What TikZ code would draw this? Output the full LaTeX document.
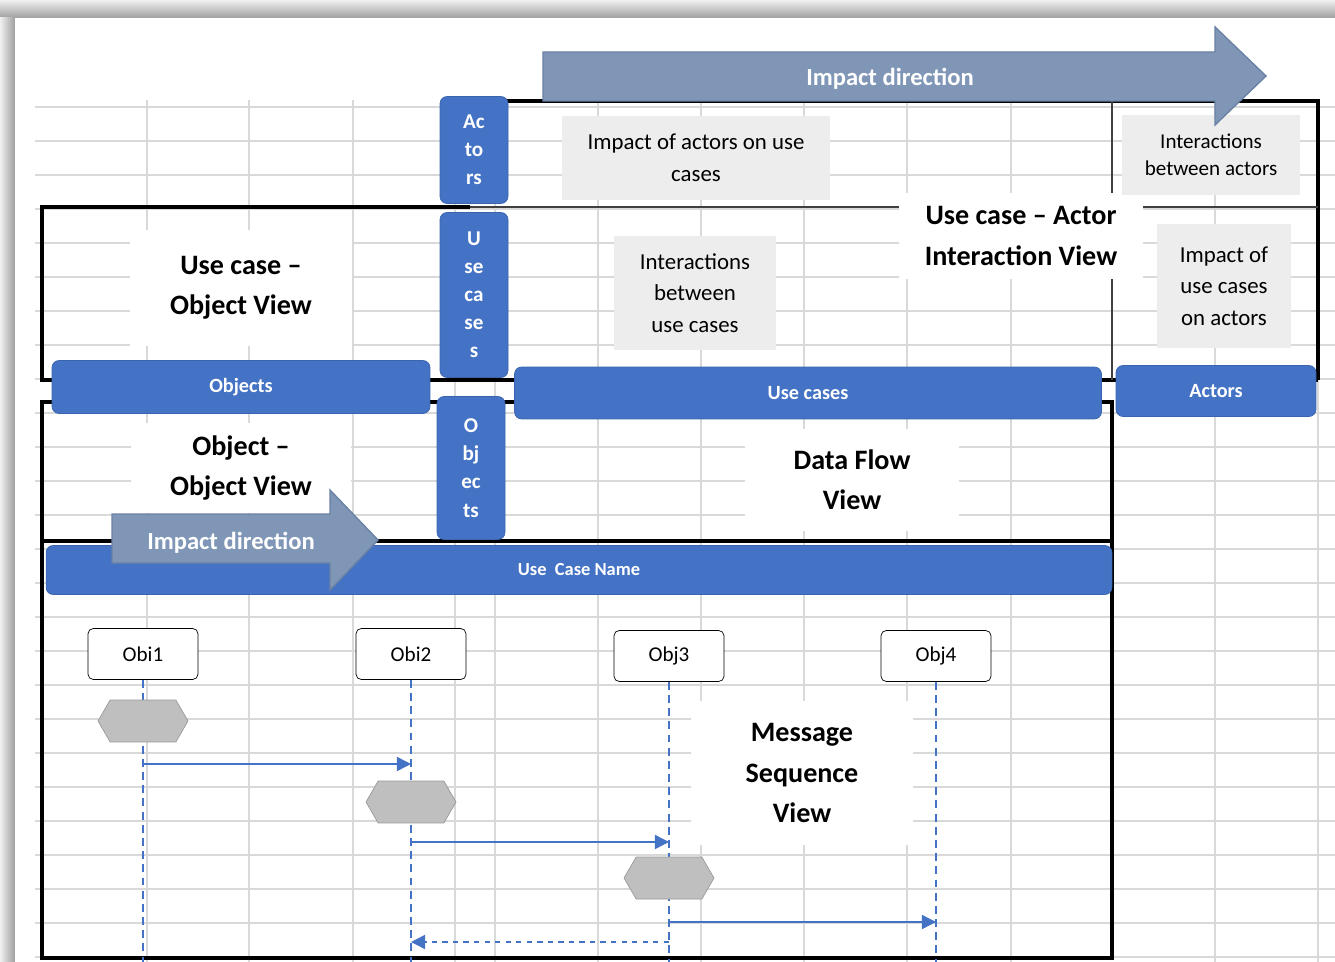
\documentclass[tikz,border=0pt]{standalone}
\usepackage{fontspec}
\setmainfont{Carlito}
\usetikzlibrary{arrows.meta,shapes.symbols}
\definecolor{pillblue}{HTML}{4472C4}
\definecolor{pillline}{HTML}{3A64AE}
\definecolor{impactfill}{HTML}{7F96B6}
\definecolor{impactline}{HTML}{6A82A4}
\definecolor{notegray}{HTML}{EDEDED}
\definecolor{cellgray}{HTML}{D9D9D9}
\definecolor{hexgray}{HTML}{BFBFBF}
\begin{document}
\begin{tikzpicture}[x=0.02cm, y=-0.02cm,
    pill/.style = {draw=pillline, fill=pillblue, rounded corners=4pt, text=white, align=center, inner sep=0pt, font=\bfseries\fontsize{12}{16}\selectfont},
    note/.style = {fill=notegray, align=center, inner sep=0pt, font=\fontsize{13}{18}\selectfont},
    view/.style = {fill=white, align=center, inner sep=0pt, font=\bfseries\fontsize{16}{23}\selectfont},
    obj/.style = {draw, fill=white, rounded corners=3pt, minimum width=2.2cm, minimum height=1.02cm, font=\fontsize{12}{14}\selectfont},
    act/.style = {signal, signal to=east and west, signal pointer angle=120, draw=hexgray!80!black, fill=hexgray, minimum width=1.8cm, minimum height=0.84cm, inner sep=0pt},
    life/.style = {pillblue, line width=0.6pt, dash pattern=on 4.5pt off 3pt},
    msg/.style = {pillblue, line width=0.8pt, -{Triangle[length=8pt,width=8pt]}},
    frame/.style = {line width=2pt},
    impact/.style = {fill=impactfill, draw=impactline, line width=0.8pt},
    impacttext/.style = {text=white, font=\bfseries\fontsize{14}{16}\selectfont},
    cell/.style = {cellgray, line width=0.7pt}]
    \useasboundingbox (0,0) rectangle (1335,962);
    \fill[black!22] (0,0) rectangle (1335,962);
    \shade[top color=black!6, bottom color=black!38] (0,0) rectangle (1335,18);
    \shade[left color=black!6, right color=black!38] (0,18) rectangle (15,962);
    \fill[white] (15,18) rectangle (1335,962);
    \foreach \gx in {147,249,353,455,495,598,701,804,907,1011,1215,1318}
        \draw[cell] (\gx,100) -- (\gx,962);
    \foreach \gy in {107,141,...,957}
        \draw[cell] (35,\gy) -- (1335,\gy);
    \draw[frame] (505,101) -- (1318,101) -- (1318,380);
    \draw[frame] (470,207) -- (42,207) -- (42,380) -- (1318,380);
    \draw[black!75, line width=1.1pt] (470,207) -- (1318,207);
    \draw[black!75, line width=1.1pt] (1112,101) -- (1112,380);
    \draw[frame] (42,402) rectangle (1112,958);
    \draw[frame] (42,541) -- (1112,541);
    \node[view, minimum width=4.44cm, minimum height=2.34cm] (v1) at (241,288) {Use case –\\Object View};
    \node[view, minimum width=4.9cm, minimum height=1.74cm] (v2) at (1021,236) {Use case – Actor\\Interaction View};
    \node[view, minimum width=4.4cm, minimum height=1.8cm] (v3) at (241,468) {Object –\\Object View};
    \node[view, minimum width=4.3cm, minimum height=2.04cm] (v4) at (852,480) {Data Flow\\View};
    \node[view, minimum width=4.44cm, minimum height=2.9cm] (v5) at (802,773) {Message\\Sequence\\View};
    \node[note, minimum width=5.36cm, minimum height=1.68cm] (n1) at (696,158) {Impact of actors on use\\cases};
    \node[note, minimum width=3.56cm, minimum height=1.6cm, font=\fontsize{12}{15.5}\selectfont] (n2) at (1211,155) {Interactions\\between actors};
    \node[note, minimum width=3.26cm, minimum height=2.28cm] (n3) at (695,293) {Interactions\\between\\use cases};
    \node[note, minimum width=2.68cm, minimum height=2.5cm] (n4) at (1224,286) {Impact of\\use cases\\on actors};
    \node[pill, minimum width=1.36cm, minimum height=2.14cm] (p1) at (474,150) {Ac\\to\\rs};
    \node[pill, minimum width=1.36cm, minimum height=3.3cm] (p2) at (474,295) {U\\se\\ca\\se\\s};
    \node[pill, minimum width=1.36cm, minimum height=2.86cm] (p3) at (471,468) {O\\bj\\ec\\ts};
    \node[pill, minimum width=7.56cm, minimum height=1.06cm, font=\bfseries\fontsize{11.5}{14}\selectfont] (h1) at (241,387) {Objects};
    \node[pill, minimum width=11.74cm, minimum height=1.04cm, font=\bfseries\fontsize{11.5}{14}\selectfont] (h2) at (808,393) {Use cases};
    \node[pill, minimum width=4cm, minimum height=1.02cm, font=\bfseries\fontsize{11.5}{14}\selectfont] (h3) at (1216,391) {Actors};
    \node[pill, minimum width=21.32cm, minimum height=0.98cm, font=\bfseries\fontsize{10.5}{14}\selectfont] (h4) at (579,570) {Use\ \ Case Name};
    \filldraw[impact] (543,52) -- (1215,52) -- (1215,27) -- (1266,76) -- (1215,125) -- (1215,101) -- (543,101) -- cycle;
    \node[impacttext] (i1) at (890,79) {Impact direction};
    \filldraw[impact] (112,514) -- (330,514) -- (330,490) -- (378,540) -- (330,590) -- (330,563) -- (112,563) -- cycle;
    \node[impacttext] (i2) at (231,543) {Impact direction};
    \node[obj] (o1) at (143,654) {Obi1};
    \node[obj] (o2) at (411,654) {Obi2};
    \node[obj] (o3) at (669,656) {Obj3};
    \node[obj] (o4) at (936,656) {Obj4};
    \foreach \n/\lx in {1/143,2/411,3/669,4/936} {
        \coordinate (e\n) at (\lx,962);
        \draw[life] (o\n) -- (e\n);
    }
    \node[act] (a1) at (143,721) {};
    \node[act] (a2) at (411,802) {};
    \node[act] (a3) at (669,878) {};
    \coordinate (s1) at (143,764);
    \coordinate (r1) at (411,764);
    \coordinate (s2) at (411,842);
    \coordinate (r2) at (669,842);
    \coordinate (s3) at (669,922);
    \coordinate (r3) at (936,922);
    \coordinate (s4) at (669,942);
    \coordinate (r4) at (411,942);
    \foreach \n in {1,2,3}
        \draw[msg] (s\n) -- (r\n);
    \draw[msg, dashed] (s4) -- (r4);
\end{tikzpicture}
\end{document}
